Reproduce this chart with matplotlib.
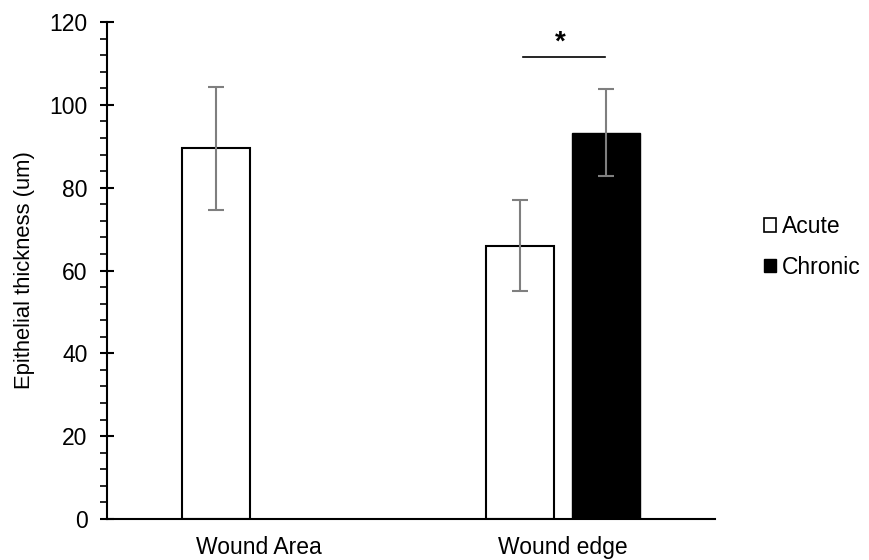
import matplotlib.pyplot as plt
from matplotlib.patches import Patch
from matplotlib.ticker import MultipleLocator
import numpy as np

plt.rcParams['font.family'] = ['Liberation Sans', 'DejaVu Sans']

categories = ['Wound Area', 'Wound edge']
acute = [89.5, 66.0]
acute_err = [14.8, 11.0]
chronic = [np.nan, 93.3]
chronic_err = [np.nan, 10.6]

fig = plt.figure(figsize=(8.69, 5.6), dpi=100)
ax = fig.add_axes([0.1231, 0.0732, 0.6997, 0.8875])

x = np.arange(len(categories))
w = 0.224
off = 0.1406
fs = 16.5

ax.bar(x - off, acute, w, color='white', edgecolor='black', linewidth=1.5, zorder=2)
ax.bar(x + off, chronic, w, color='black', edgecolor='black', linewidth=1.0, zorder=2)
ax.errorbar(x - off, acute, yerr=acute_err, fmt='none', ecolor='#7f7f7f',
            elinewidth=1.5, capsize=6, capthick=1.5, zorder=3)
ax.errorbar(x + off, chronic, yerr=chronic_err, fmt='none', ecolor='#7f7f7f',
            elinewidth=1.5, capsize=6, capthick=1.5, zorder=3)

# significance marker
ax.plot([0.868, 1.138], [111.6, 111.6], color='black', lw=1.2, clip_on=False)
ax.text(0.99, 112.0, '*', ha='center', va='bottom', fontsize=20, fontweight='bold')

ax.set_xlim(-0.5, 1.5)
ax.set_ylim(0, 120)
ax.set_xticks(x)
ax.set_xticklabels(categories, fontsize=fs)
ax.tick_params(axis='x', length=0, pad=12)
ax.yaxis.set_major_locator(MultipleLocator(20))
ax.yaxis.set_minor_locator(MultipleLocator(4))
ax.tick_params(axis='y', which='major', direction='inout', length=10, width=1.5,
               labelsize=fs, pad=9)
ax.tick_params(axis='y', which='minor', direction='out', length=5, width=1.2)
ax.set_ylabel('Epithelial thickness (um)', fontsize=15.8, labelpad=10)

for s in ['top', 'right']:
    ax.spines[s].set_visible(False)
ax.spines['left'].set_linewidth(1.5)
ax.spines['bottom'].set_linewidth(1.5)

handles = [Patch(facecolor='white', edgecolor='black', linewidth=1.2),
           Patch(facecolor='black', edgecolor='black')]
fig.legend(handles, ['Acute', 'Chronic'], loc='center left', bbox_to_anchor=(0.855, 0.559),
           frameon=False, fontsize=fs, handlelength=0.55, handleheight=0.55,
           handletextpad=0.25, labelspacing=0.75)

fig.savefig('out.png', dpi=100)
